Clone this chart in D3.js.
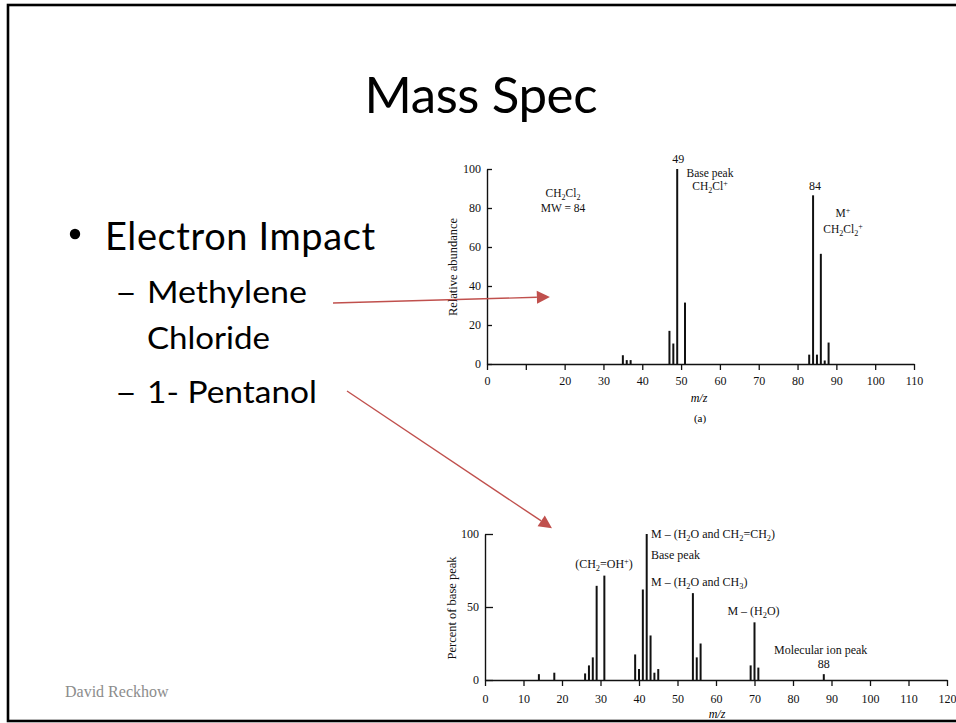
<!DOCTYPE html>
<html>
<head>
<meta charset="utf-8">
<script src="https://cdn.jsdelivr.net/npm/d3@7"></script>
<style>
  html, body { margin: 0; padding: 0; background: #fff; }
  svg { display: block; }
  .serif { font-family: "Liberation Serif", "Times New Roman", serif; }
  .slide { font-family: Lato, "Noto Sans", sans-serif; }
</style>
</head>
<body>
<svg id="slide" width="956" height="723"></svg>
<script>
// Methylene chloride (CH2Cl2) spectrum: m/z and relative abundance
const ch2cl2Mz    = [35, 36, 37, 47, 48, 49, 51, 83, 84, 85, 86, 87, 88];
const ch2cl2Abund = [4.5, 2, 2, 17, 10.5, 100, 31.5, 4.8, 86.5, 4.8, 56.5, 1.8, 11];
const ch2cl2XTicks = [0, 10, 20, 30, 40, 50, 60, 70, 80, 90, 100, 110];
const ch2cl2XLabels = ["0", "", "20", "30", "40", "50", "60", "70", "80", "90", "100", "110"];
const ch2cl2YTicks = [0, 20, 40, 60, 80, 100];

// 1-Pentanol spectrum: m/z and percent of base peak
const pentMz  = [14, 18, 26, 27, 28, 29, 31, 39, 40, 41, 42, 43, 44, 45, 54, 55, 56, 69, 70, 71, 88];
const pentPct = [4, 5, 4.5, 10, 15.5, 64.5, 71.5, 17.5, 7.5, 62, 100, 30.5, 5, 7.5, 59.5, 15.5, 25, 10, 39.5, 8.5, 4];
const pentXTicks = [0, 10, 20, 30, 40, 50, 60, 70, 80, 90, 100, 110, 120];
const pentYTicks = [0, 50, 100];

const svg = d3.select("#slide");

// Slide frame
svg.append("rect")
  .attr("x", 8).attr("y", 5).attr("width", 970).attr("height", 716)
  .attr("fill", "none").attr("stroke", "#000").attr("stroke-width", 2.6);

// Title
svg.append("text").attr("class", "slide")
  .attr("x", 481).attr("y", 113).attr("text-anchor", "middle")
  .attr("font-size", 51).attr("textLength", 233)
  .text("Mass Spec");

// Bullets
svg.append("circle").attr("cx", 75).attr("cy", 234).attr("r", 5.2).attr("fill", "#000");
svg.append("text").attr("class", "slide").attr("x", 105).attr("y", 250)
  .attr("font-size", 38).attr("textLength", 270).text("Electron Impact");

const sub = [
  { dash: true,  text: "Methylene", y: 303, w: 160 },
  { dash: false, text: "Chloride",  y: 349, w: 123 },
  { dash: true,  text: "1- Pentanol", y: 403, w: 170 }
];
sub.forEach(s => {
  if (s.dash) {
    svg.append("text").attr("class", "slide").attr("x", 115).attr("y", s.y)
      .attr("font-size", 31).attr("textLength", 22).attr("lengthAdjust", "spacingAndGlyphs")
      .text("–");
  }
  svg.append("text").attr("class", "slide").attr("x", 147).attr("y", s.y)
    .attr("font-size", 31).attr("textLength", s.w).attr("lengthAdjust", "spacingAndGlyphs")
    .text(s.text);
});

// Footer
svg.append("text").attr("class", "serif").attr("x", 65).attr("y", 697)
  .attr("font-size", 16).attr("fill", "#8c8c8c").text("David Reckhow");

// Rich text helper: segments of [string, "sub" | "sup" | null]
function rich(g, x, y, anchor, segs, size) {
  const fs = size || 12;
  const t = g.append("text").attr("class", "serif")
    .attr("x", x).attr("y", y).attr("text-anchor", anchor)
    .attr("font-size", fs).attr("fill", "#111");
  let shift = 0;
  segs.forEach(([s, kind]) => {
    const target = kind === "sub" ? 3 : kind === "sup" ? -4 : 0;
    t.append("tspan")
      .attr("dy", target - shift)
      .attr("font-size", kind ? fs * 0.7 : fs)
      .text(s);
    shift = target;
  });
  return t;
}

function styleAxis(g) {
  g.selectAll("path.domain").attr("stroke", "#111").attr("stroke-width", 1.4);
  g.selectAll(".tick line").attr("stroke", "#111").attr("stroke-width", 1.3);
  g.selectAll(".tick text").attr("class", "serif").attr("font-size", 12).attr("fill", "#111");
}

// ---------- Methylene chloride spectrum ----------
const xA = d3.scaleLinear().domain([0, 110]).range([487, 914]);
const yA = d3.scaleLinear().domain([0, 100]).range([364, 169]);
const gA = svg.append("g");

gA.append("g").attr("transform", `translate(0,${yA(0)})`)
  .call(d3.axisBottom(xA).tickValues(ch2cl2XTicks)
    .tickFormat((d, i) => ch2cl2XLabels[i]).tickSizeInner(6).tickSizeOuter(0).tickPadding(6.5))
  .call(styleAxis);

gA.append("g").attr("transform", `translate(${xA(0)},0)`)
  .call(d3.axisLeft(yA).tickValues(ch2cl2YTicks).tickSizeInner(-5).tickSizeOuter(0).tickPadding(6))
  .call(styleAxis);

gA.selectAll("line.peak").data(ch2cl2Mz).join("line").attr("class", "peak")
  .attr("x1", d => xA(d)).attr("x2", d => xA(d))
  .attr("y1", yA(0)).attr("y2", (d, i) => yA(ch2cl2Abund[i]))
  .attr("stroke", "#111").attr("stroke-width", 2);

rich(gA, xA(49) + 1, yA(100) - 6, "middle", [["49"]]);
rich(gA, 710, 177, "middle", [["Base peak"]], 11.5);
rich(gA, 710, 190, "middle", [["CH"], ["2", "sub"], ["Cl"], ["+", "sup"]], 11.5);
rich(gA, xA(84) + 2, 190, "middle", [["84"]]);
rich(gA, 843, 217, "middle", [["M"], ["+", "sup"]], 11.5);
rich(gA, 843, 233, "middle", [["CH"], ["2", "sub"], ["Cl"], ["2", "sub"], ["+", "sup"]], 11.5);
rich(gA, 563, 197, "middle", [["CH"], ["2", "sub"], ["Cl"], ["2", "sub"]], 11.5);
rich(gA, 563, 212, "middle", [["MW = 84"]], 11.5);
gA.append("text").attr("class", "serif")
  .attr("transform", "translate(457,267) rotate(-90)")
  .attr("text-anchor", "middle").attr("font-size", 12.5).attr("fill", "#111")
  .text("Relative abundance");
gA.append("text").attr("class", "serif").attr("x", 699).attr("y", 402)
  .attr("text-anchor", "middle").attr("font-size", 12).attr("font-style", "italic").text("m/z");
gA.append("text").attr("class", "serif").attr("x", 700).attr("y", 422)
  .attr("text-anchor", "middle").attr("font-size", 11).text("(a)");

// ---------- 1-Pentanol spectrum ----------
const xB = d3.scaleLinear().domain([0, 120]).range([485, 947]);
const yB = d3.scaleLinear().domain([0, 100]).range([680, 534]);
const gB = svg.append("g");

gB.append("g").attr("transform", `translate(0,${yB(0)})`)
  .call(d3.axisBottom(xB).tickValues(pentXTicks).tickSizeInner(6).tickSizeOuter(0).tickPadding(8.5))
  .call(styleAxis);

gB.append("g").attr("transform", `translate(${xB(0)},0)`)
  .call(d3.axisLeft(yB).tickValues(pentYTicks).tickSizeInner(-8).tickSizeOuter(0).tickPadding(6))
  .call(styleAxis);

gB.selectAll("line.peak").data(pentMz).join("line").attr("class", "peak")
  .attr("x1", d => xB(d)).attr("x2", d => xB(d))
  .attr("y1", yB(0)).attr("y2", (d, i) => yB(pentPct[i]))
  .attr("stroke", "#111").attr("stroke-width", 2);

rich(gB, 604, 568, "middle", [["(CH"], ["2", "sub"], ["=OH"], ["+", "sup"], [")"]]);
rich(gB, 651, 538, "start", [["M – (H"], ["2", "sub"], ["O and CH"], ["2", "sub"], ["=CH"], ["2", "sub"], [")"]]);
rich(gB, 651, 559, "start", [["Base peak"]]);
rich(gB, 651, 586, "start", [["M – (H"], ["2", "sub"], ["O and CH"], ["3", "sub"], [")"]]);
rich(gB, xB(70) - 1, 615, "middle", [["M – (H"], ["2", "sub"], ["O)"]]);
rich(gB, 774, 654, "start", [["Molecular ion peak"]]);
rich(gB, xB(88), 668, "middle", [["88"]]);
gB.append("text").attr("class", "serif")
  .attr("transform", "translate(456,608) rotate(-90)")
  .attr("text-anchor", "middle").attr("font-size", 12.5).attr("fill", "#111")
  .text("Percent of base peak");
gB.append("text").attr("class", "serif").attr("x", 717).attr("y", 718)
  .attr("text-anchor", "middle").attr("font-size", 12).attr("font-style", "italic").text("m/z");

// ---------- Pointer arrows from the bullet text to each spectrum ----------
const arrowColor = "#c0504d";
function arrow(x0, y0, x1, y1) {
  const ang = Math.atan2(y1 - y0, x1 - x0);
  const len = 13, half = 6.5;
  const bx = x1 - len * Math.cos(ang), by = y1 - len * Math.sin(ang);
  svg.append("line").attr("x1", x0).attr("y1", y0).attr("x2", bx).attr("y2", by)
    .attr("stroke", arrowColor).attr("stroke-width", 1.4);
  const px = -Math.sin(ang) * half, py = Math.cos(ang) * half;
  svg.append("path")
    .attr("d", `M${x1},${y1}L${bx + px},${by + py}L${bx - px},${by - py}Z`)
    .attr("fill", arrowColor);
}
arrow(333, 303, xA(16.2), yA(34.4));
arrow(347, 391, xB(17.4), yB(104));
</script>
</body>
</html>
